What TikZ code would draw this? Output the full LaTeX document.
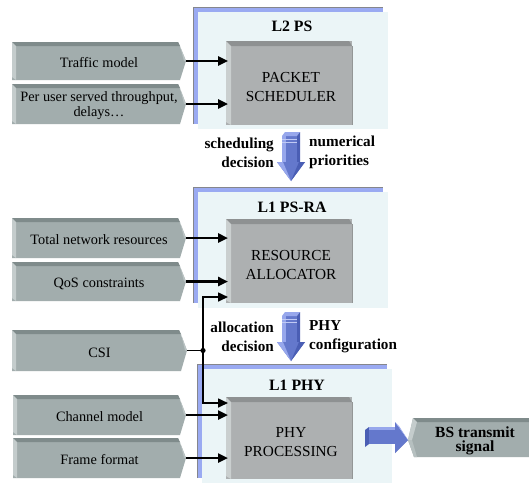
\documentclass[tikz,border=0pt]{standalone}
\usepackage{fontspec}
\setmainfont{Liberation Serif}
\usetikzlibrary{arrows.meta}
\definecolor{panel}{HTML}{EBF5F7}
\definecolor{frameblue}{HTML}{9AAAF2}
\definecolor{frameedge}{HTML}{85868C}
\definecolor{boxface}{HTML}{ADB0B1}
\definecolor{boxtop}{HTML}{8E9192}
\definecolor{boxleft}{HTML}{CACFCF}
\definecolor{inface}{HTML}{A2ADAD}
\definecolor{intop}{HTML}{7F8B8B}
\definecolor{inleft}{HTML}{C4CCCC}
\definecolor{arrmain}{HTML}{6478CC}
\definecolor{arrlight}{HTML}{97A7EC}
\definecolor{arrdark}{HTML}{4A5EB4}
\tikzset{
  intext/.style={font=\fontsize{14.3}{15}\selectfont, align=center, inner sep=0pt},
  boxtext/.style={font=\fontsize{15.3}{19}\selectfont, align=center, inner sep=0pt},
  titletext/.style={font=\bfseries\fontsize{15.8}{16}\selectfont, inner sep=0pt},
  lbltext/.style={font=\bfseries\fontsize{15.2}{19}\selectfont, inner sep=0pt},
  fatarrow/.style={line width=2.4pt, -{Triangle[length=10pt,width=9pt]}},
  thinarrow/.style={line width=1.6pt, -{Triangle[length=10pt,width=9pt]}},
}
% input shape: #1 x1, #2 y1, #3 x point, #4 y2, #5 name, #6 text
\newcommand{\inshape}[6]{%
  \fill[inface] (#1,#2) -- ({#3-8},#2) -- (#3,{(#2+#4)/2}) -- ({#3-6},#4) -- (#1,#4) -- cycle;
  \fill[intop] (#1,#2) -- ({#3-8},#2) -- ({#3-6},{#2+4}) -- ({#1+4},{#2+4}) -- cycle;
  \fill[inleft] (#1,#2) -- ({#1+4},{#2+4}) -- ({#1+4},#4) -- (#1,{#4-3}) -- cycle;
  \fill[inleft!70!inface] ({#3-6},{#2+4}) -- (#3,{(#2+#4)/2}) -- ({#3-2},{(#2+#4)/2}) -- cycle;
  \node[intext] (#5) at ({(#1+#3)/2},{(#2+#4)/2+2}) {#6};
  \coordinate (#5-tip) at (#3,{(#2+#4)/2});
}
% gray box: #1 x1, #2 y1, #3 x2, #4 y2, #5 name, #6 text
\newcommand{\graybox}[6]{%
  \fill[boxface] (#1,#2) rectangle (#3,#4);
  \fill[boxtop] (#1,#2) -- ({#3-3},#2) -- (#3,{#2+5}) -- ({#1+5},{#2+5}) -- cycle;
  \fill[boxleft] (#1,#2) -- ({#1+5},{#2+5}) -- ({#1+5},#4) -- (#1,{#4-3}) -- cycle;
  \draw[boxface!85!black, line width=0.6pt] (#3,{#2+5}) -- (#3,#4);
  \node[boxtext] (#5) at ({(#1+#3)/2+2},{(#2+#4)/2+4}) {#6};
}
% layer panel: #1 x1, #2 y1, #3 x2, #4 y2 (blue frame), panel offset by 5
\newcommand{\layerpanel}[4]{%
  \fill[frameblue] (#1,#2) rectangle (#3,#4);
  \draw[frameedge, line width=0.8pt] (#1,#4) -- (#1,#2) -- (#3,#2);
  \fill[panel] ({#1+5},{#2+5}) rectangle ({#3+5},{#4+5});
}
\begin{document}
\begin{tikzpicture}[x=1pt,y=-1pt]
\useasboundingbox (0,0) rectangle (529,483);
\fill[white] (0,0) rectangle (529,483);

% ---------- layer panels ----------
\layerpanel{193}{7}{383}{124}
\layerpanel{193}{187}{383}{303}
\layerpanel{197}{364}{387}{478}

% ---------- titles ----------
\node[titletext] (t1) at (292,26) {L2 PS};
\node[titletext] (t2) at (292,207) {L1 PS-RA};
\node[titletext] (t3) at (297,385) {L1 PHY};

% ---------- main boxes ----------
\graybox{226}{41}{352}{125}{ps}{PACKET\\SCHEDULER}
\graybox{226}{219}{352}{303}{ra}{RESOURCE\\ALLOCATOR}
\graybox{226}{397}{352}{479}{phy}{PHY\\PROCESSING}

% ---------- inputs ----------
\inshape{12}{42}{186}{80}{tm}{Traffic model}
\inshape{12}{84}{186}{124}{pu}{Per user served throughput,\\delays\ldots}
\inshape{12}{218}{186}{258}{tn}{Total network resources}
\inshape{12}{262}{186}{301}{qos}{QoS constraints}
\inshape{12}{330}{187}{371}{csi}{CSI}
\inshape{13}{395}{186}{435}{ch}{Channel model}
\inshape{13}{438}{186}{478}{ff}{Frame format}

% ---------- input arrows ----------
\coordinate (ps-in1) at (228,61);
\coordinate (ps-in2) at (228,104);
\coordinate (ra-in1) at (228,238);
\coordinate (ra-in2) at (228,281.5);
\coordinate (ra-in3) at (228,297);
\coordinate (phy-in1) at (228,403);
\coordinate (phy-in2) at (228,415);
\coordinate (phy-in3) at (228,458);
\coordinate (junc) at (203,350.5);

\draw[fatarrow] (tm-tip) -- (ps-in1);
\draw[fatarrow] (pu-tip) -- (ps-in2);
\draw[fatarrow] (tn-tip) -- (ra-in1);
\draw[fatarrow] (qos-tip) -- (ra-in2);
\draw[fatarrow] (ch-tip) -- (phy-in2);
\draw[fatarrow] (ff-tip) -- (phy-in3);
\draw[line width=1.6pt] (csi-tip) -- (junc);
\draw[thinarrow] (junc) |- (ra-in3);
\draw[thinarrow] (junc) |- (phy-in1);
\fill (junc) circle (2.6);

% ---------- blue down arrows ----------
\foreach \yy/\nm in {132/a1, 312/a2}{
  \coordinate (\nm-top) at (290,\yy);
  \fill[arrmain] (282,\yy+4) rectangle (297,\yy+31);
  \fill[arrlight] (282,\yy+4) rectangle (286,\yy+31);
  \fill[arrlight] (282,\yy+4) -- (285,\yy) -- (300,\yy) -- (297,\yy+4) -- cycle;
  \fill[arrdark] (297,\yy+4) -- (300,\yy) -- (300,\yy+31) -- (297,\yy+31) -- cycle;
  \draw[arrlight!60!white, line width=0.8pt] (282,\yy+7) -- (297,\yy+7);
  \draw[arrlight!60!white, line width=0.8pt] (282,\yy+10) -- (297,\yy+10);
  \fill[arrmain] (277,\yy+30) -- (305,\yy+30) -- (291,\yy+49) -- cycle;
  \fill[arrlight] (277,\yy+30) -- (283,\yy+30) -- (291,\yy+49) -- cycle;
  \fill[arrdark] (299,\yy+30) -- (305,\yy+30) -- (291,\yy+49) -- cycle;
}

% ---------- labels ----------
\node[lbltext, anchor=east, align=right] (l1) at (274,152.5) {scheduling\\decision};
\node[lbltext, anchor=west, align=left] (l2) at (309,152.5) {numerical\\priorities};
\node[lbltext, anchor=east, align=right] (l3) at (274,336.5) {allocation\\decision};
\node[lbltext, anchor=west, align=left] (l4) at (309,336.5) {PHY\\configuration};

% ---------- BS transmit signal ----------
\fill[inface] (413,418) -- (529,418) -- (529,457) -- (414,457) -- (408,440) -- cycle;
\fill[intop] (413,418) -- (529,418) -- (529,422) -- (417,422) -- cycle;
\fill[inleft] (413,418) -- (417,422) -- (412,440) -- (408,440) -- cycle;
\fill[inleft!60!inface] (408,440) -- (412,440) -- (417,457) -- (414,457) -- cycle;
\node[lbltext, font=\bfseries\fontsize{15.5}{14}\selectfont, align=center] (bs) at (475,441) {BS transmit\\signal};
\coordinate (bs-tip) at (408,440);

% ---------- horizontal blue arrow ----------
\coordinate (phy-out) at (365,436);
\fill[arrdark] (365,430) -- (369,427) -- (369,444) -- (365,447) -- cycle;
\fill[arrmain] (369,427) rectangle (395,444);
\fill[arrlight] (369,427) rectangle (395,430);
\fill[arrmain] (395,422) -- (bs-tip) -- (395,453) -- cycle;
\fill[arrlight] (395,422) -- (bs-tip) -- (399,426) -- cycle;
\fill[arrdark] (395,453) -- (bs-tip) -- (399,449) -- cycle;
\end{tikzpicture}
\end{document}
